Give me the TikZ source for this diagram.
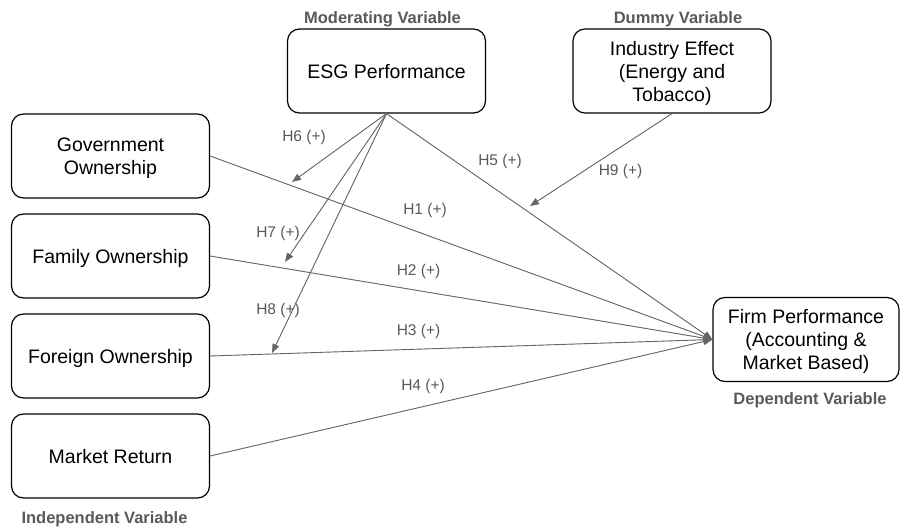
\documentclass[tikz,border=0pt]{standalone}
\usepackage{fontspec}
\setmainfont{Liberation Sans}
\usepackage{xcolor}
\usepackage{tikz}
\usetikzlibrary{positioning,arrows.meta}
\usetikzlibrary{calc}

\definecolor{linegray}{HTML}{666666}
\definecolor{labelgray}{HTML}{595959}

\begin{document}
\begin{tikzpicture}[
  x=1pt, y=1pt,
  node distance=14.8pt and 14.8pt,
  var/.style={draw, rounded corners=12pt, line width=1.2pt, minimum width=198pt, minimum height=84pt,
    align=center, inner sep=2pt, text depth=0pt, font=\fontsize{19.5}{23}\selectfont},
  role/.style={text=labelgray, inner sep=0pt, font=\bfseries\fontsize{16.5}{19}\selectfont},
  hyp/.style={text=labelgray, inner sep=0pt, font=\fontsize{15.5}{18}\selectfont},
  arrow/.style={-{Triangle[length=9pt,width=7pt]}, draw=linegray, fill=linegray, line width=0.9pt}
]
\useasboundingbox (0,0) rectangle (901,-532);

% Independent variables
\node[var] (gov) at (110.5,-156) {Government\\Ownership};
\node[var, below=of gov] (fam) {Family Ownership};
\node[var, below=of fam] (for) {Foreign Ownership};
\node[var, below=of for] (mkt) {Market Return};
\node[role, below=13pt of mkt, xshift=-6pt] (indep) {Independent Variable};

% Moderator and dummy
\node[var] (esg) at (386.5,-71) {ESG Performance};
\node[role, above=1pt of esg, xshift=-4pt] (moder) {Moderating Variable};
\node[var] (ind) at (672,-71) {Industry Effect\\(Energy and\\Tobacco)};
\node[role, above=1pt of ind, xshift=6pt] (dummy) {Dummy Variable};

% Dependent variable
\node[var, minimum width=186pt] (firm) at (806,-339.5) {Firm Performance\\(Accounting \&\\Market Based)};
\node[role, below=10pt of firm, xshift=4pt] (dep) {Dependent Variable};

% Moderation targets on the direct paths
\coordinate (t6) at (292,-182);
\coordinate (t7) at (285,-262);
\coordinate (t8) at (272,-353);
\coordinate (t9) at (530,-206);

% Direct effects
\draw[arrow] (gov.east) -- (firm.west);
\draw[arrow] (fam.east) -- (firm.west);
\draw[arrow] (for.east) -- (firm.west);
\draw[arrow] (mkt.east) -- (firm.west);
\draw[arrow] (esg.south) -- (firm.west);

% Moderating and dummy effects
\draw[arrow] (esg.south) -- (t6);
\draw[arrow] (esg.south) -- (t7);
\draw[arrow] (esg.south) -- (t8);
\draw[arrow] (ind.south) -- (t9);

% Hypotheses
\node[hyp] (h1) at (425,-210.5) {H1 (+)};
\node[hyp] (h2) at (418.5,-271) {H2 (+)};
\node[hyp] (h3) at (418.5,-331) {H3 (+)};
\node[hyp] (h4) at (423,-386) {H4 (+)};
\node[hyp] (h5) at (500,-161) {H5 (+)};
\node[hyp] (h6) at (304,-137.5) {H6 (+)};
\node[hyp] (h7) at (278,-233.5) {H7 (+)};
\node[hyp] (h8) at (278,-310) {H8 (+)};
\node[hyp] (h9) at (620.5,-171.5) {H9 (+)};

\end{tikzpicture}
\end{document}
